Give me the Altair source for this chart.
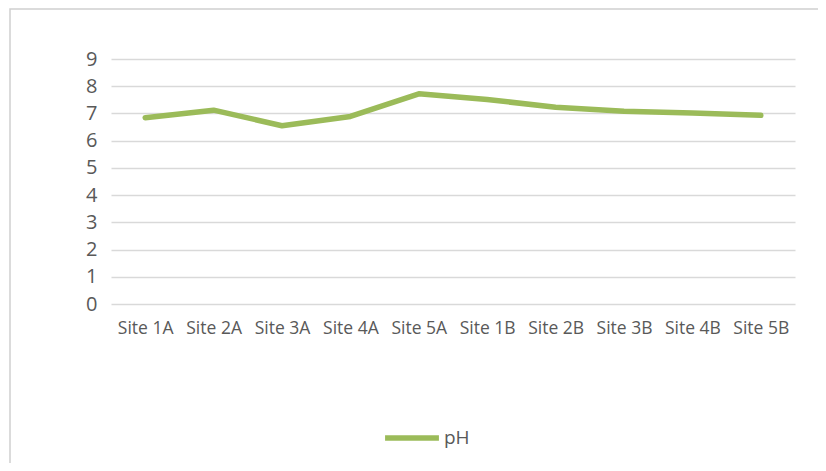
import altair as alt
import pandas as pd

sites = ["Site 1A", "Site 2A", "Site 3A", "Site 4A", "Site 5A",
         "Site 1B", "Site 2B", "Site 3B", "Site 4B", "Site 5B"]
ph_values = [6.84, 7.12, 6.55, 6.89, 7.72, 7.51, 7.23, 7.08, 7.02, 6.93]
series_name = "pH"
y_ticks = [0, 1, 2, 3, 4, 5, 6, 7, 8, 9]

df = pd.DataFrame({"site": sites, "value": ph_values, "series": [series_name] * len(sites)})

FONT = "Open Sans"
GREEN = "#9BBB59"

line = alt.Chart(df).mark_line(strokeWidth=5.5, strokeCap="round", strokeJoin="round").encode(
    x=alt.X("site:N", sort=sites, title=None,
            scale=alt.Scale(paddingInner=0, paddingOuter=0),
            axis=alt.Axis(labelAngle=0, labelFontSize=17.5, labelColor="#595959", labelFont=FONT,
                          domain=False, ticks=False, grid=False, labelPadding=15)),
    y=alt.Y("value:Q", title=None,
            scale=alt.Scale(domain=[0, 9], nice=False),
            axis=alt.Axis(values=y_ticks, labelFontSize=20, labelColor="#595959", labelFont=FONT,
                          domain=False, ticks=False, gridColor="#D9D9D9", gridWidth=1.3,
                          labelPadding=14)),
    color=alt.Color("series:N", scale=alt.Scale(range=[GREEN]),
                    legend=alt.Legend(title=None, orient="none", legendX=271, legendY=349,
                                      symbolType="stroke", symbolSize=2900, symbolStrokeWidth=5.5,
                                      labelFontSize=19, labelColor="#595959", labelFont=FONT,
                                      labelOffset=2)),
)

border = alt.Chart(pd.DataFrame({"k": [0]})).mark_rect(
    fill="transparent", stroke="#D0D0D0", strokeWidth=1.5
).encode(
    x=alt.value(-101), x2=alt.value(710), y=alt.value(-50), y2=alt.value(430)
)

chart = alt.layer(border, line).properties(
    width=684, height=245,
    autosize="none",
    padding={"left": 103, "top": 51, "right": 23, "bottom": 159},
).configure_view(stroke=None)

chart.save("out.html", embed_options={"renderer": "svg", "actions": False})
